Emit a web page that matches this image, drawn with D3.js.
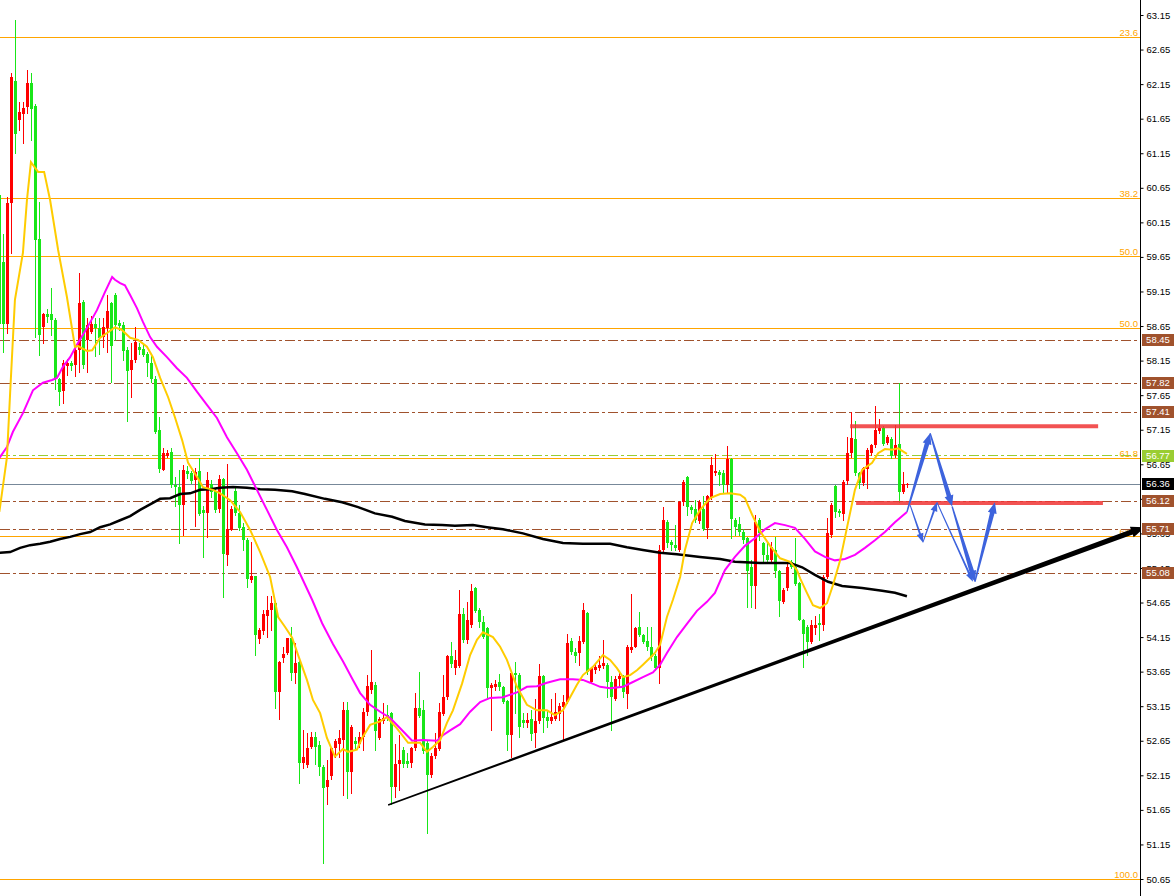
<!DOCTYPE html>
<html>
<head>
<meta charset="utf-8">
<script src="https://cdn.jsdelivr.net/npm/d3@7"></script>
<style>
  body { margin: 0; background: #fff; }
  svg { display: block; font-family: Tahoma, "Liberation Sans", Arial, sans-serif; }
</style>
</head>
<body>
<svg id="chart" width="1176" height="896"></svg>
<script>
// candles: open, high, low, close (red = up, green = down)
const ohlc = [
[60.54,60.62,58.45,58.68],[59.57,59.98,58.27,58.68],[58.68,60.51,58.55,60.43],[60.43,62.31,59.71,62.25],
[62.20,63.08,61.16,61.44],[61.62,61.89,61.48,61.74],[61.72,61.89,61.30,61.81],[61.81,62.35,61.73,62.16],
[62.16,62.31,61.34,61.78],[61.84,61.86,58.49,59.90],[59.91,60.44,58.23,58.52],[58.63,58.84,58.40,58.82],
[58.83,58.89,58.71,58.79],[58.82,59.20,58.52,58.73],[58.74,58.76,57.74,57.88],[57.89,57.90,57.51,57.70],
[57.70,58.16,57.53,58.11],[58.08,58.18,57.94,58.12],[58.12,58.15,58.02,58.07],[58.09,58.35,57.93,58.30],
[58.30,59.42,57.99,58.98],[59.00,59.02,58.05,58.09],[58.45,58.76,57.99,58.66],[58.57,58.79,58.55,58.68],
[58.68,58.76,58.21,58.62],[58.62,58.76,58.25,58.47],[58.49,58.76,58.35,58.63],[58.63,59.10,58.28,58.87],
[58.98,59.00,57.84,58.36],[59.10,59.13,58.45,58.66],[58.70,58.74,58.59,58.66],[58.66,58.71,58.16,58.28],
[58.30,58.35,57.27,58.00],[58.01,58.40,57.63,58.16],[58.16,58.63,58.13,58.42],[58.35,58.40,58.25,58.31],
[58.32,58.38,58.21,58.23],[58.24,58.28,57.92,58.11],[58.12,58.21,57.84,57.89],[57.89,57.92,57.10,57.12],
[57.15,57.34,56.54,56.59],[56.58,56.88,56.57,56.82],[56.77,56.86,56.75,56.82],[56.83,56.88,56.32,56.35],
[56.35,56.47,56.04,56.32],[56.32,56.57,55.51,56.06],[56.06,56.64,55.63,56.57],[56.56,56.62,56.45,56.51],
[56.53,56.56,56.38,56.41],[56.42,56.59,55.75,56.54],[56.56,56.74,55.92,55.94],[55.99,56.04,55.31,55.94],
[55.94,56.54,55.60,56.42],[56.37,56.42,56.18,56.25],[56.27,56.30,55.96,55.99],[55.99,56.50,55.96,56.43],
[56.43,56.45,54.73,55.34],[55.34,56.66,55.19,55.71],[55.71,56.04,55.70,56.01],[56.26,56.32,55.92,55.94],
[55.94,56.06,55.70,55.72],[55.74,55.80,55.41,55.55],[55.55,55.58,54.88,54.98],[54.98,55.53,54.95,55.04],
[55.04,55.04,53.89,54.18],[54.12,54.28,54.06,54.25],[54.25,54.54,54.20,54.49],[54.45,54.74,54.15,54.54],
[54.54,54.74,54.25,54.64],[54.65,54.66,53.12,53.36],[53.36,53.80,52.97,53.79],[53.84,54.01,53.79,53.90],
[53.91,54.14,53.90,54.13],[54.13,54.29,53.53,53.63],[53.62,54.06,53.48,53.77],[53.79,53.82,52.04,52.33],
[52.32,52.80,52.25,52.41],[52.30,52.76,52.27,52.54],[52.55,52.77,52.54,52.70],[52.70,52.78,52.32,52.56],
[52.59,52.64,52.15,52.27],[52.27,52.30,50.88,51.96],[51.98,52.37,51.74,52.08],[52.13,52.56,52.10,52.54],
[52.54,52.68,52.42,52.64],[52.61,52.81,52.42,52.69],[52.66,53.21,51.87,53.10],[53.10,53.21,51.82,52.20],
[52.20,52.88,51.89,52.85],[52.64,52.71,52.52,52.59],[52.61,52.78,52.56,52.71],[52.71,53.12,52.52,53.07],
[53.07,53.60,53.02,53.44],[53.38,53.96,53.34,53.50],[53.46,53.50,52.52,52.80],[52.69,52.99,52.67,52.97],
[52.93,53.19,52.90,52.98],[53.02,53.17,52.95,52.97],[53.05,53.07,51.74,51.98],[51.99,52.61,51.84,52.32],
[52.31,52.73,51.94,52.37],[52.52,52.56,52.27,52.32],[52.36,52.47,52.27,52.31],[52.32,52.56,52.27,52.54],
[52.54,53.34,52.52,53.12],[53.13,53.65,52.99,53.02],[53.09,53.24,52.47,52.49],[52.62,52.64,51.32,52.15],
[52.15,52.47,52.13,52.43],[52.43,52.76,52.40,52.54],[52.53,53.19,52.52,53.06],[53.05,53.60,53.02,53.29],
[53.28,53.89,53.26,53.87],[53.87,54.08,53.72,53.75],[53.71,53.96,53.62,53.82],[53.74,54.83,53.72,54.49],
[54.48,54.57,54.08,54.11],[54.11,54.66,54.06,54.40],[54.32,54.92,54.30,54.81],[54.86,54.88,54.52,54.53],
[54.54,54.57,54.30,54.37],[54.37,54.45,54.13,54.16],[54.28,54.30,53.26,53.41],[53.41,53.48,52.80,53.45],
[53.43,53.53,53.38,53.47],[53.50,53.62,53.38,53.43],[53.43,53.44,53.19,53.22],[53.22,53.24,52.52,52.73],
[52.73,53.65,52.42,53.63],[53.63,53.79,53.05,53.60],[53.60,53.63,52.71,52.85],[52.95,53.05,52.85,52.90],
[52.90,53.05,52.85,52.95],[52.97,53.09,52.66,52.76],[52.76,53.26,52.56,52.93],[52.93,53.76,52.90,53.58],
[53.58,53.60,52.78,52.97],[52.99,53.09,52.85,52.93],[52.93,53.26,52.90,52.99],[52.97,53.34,52.95,53.07],
[53.04,53.19,52.95,53.15],[53.14,53.31,52.68,53.21],[53.21,54.20,53.19,54.06],[54.10,54.13,53.91,53.94],
[53.94,53.99,53.79,53.88],[53.93,54.16,53.75,54.10],[54.08,54.65,54.07,54.54],[54.50,54.52,53.62,53.65],
[53.50,53.72,53.48,53.70],[53.67,53.77,53.63,53.72],[53.70,53.87,53.67,53.75],[53.72,54.11,53.70,53.77],
[53.75,53.77,53.29,53.50],[53.50,53.58,52.80,53.29],[53.26,53.58,53.24,53.55],[53.53,53.63,53.43,53.58],
[53.57,53.60,53.29,53.35],[53.33,54.03,53.12,54.01],[53.96,54.78,53.94,54.01],[54.01,54.30,54.00,54.28],
[54.29,54.52,54.16,54.18],[54.18,54.20,54.06,54.08],[54.10,54.30,53.96,54.01],[54.01,54.30,53.82,53.87],
[53.87,53.91,53.67,53.70],[53.70,55.48,53.48,55.41],[55.41,56.03,55.38,55.84],[55.82,55.84,55.46,55.52],
[55.52,55.55,55.41,55.48],[55.48,55.77,55.41,55.44],[55.41,56.12,55.40,56.11],[56.11,56.42,56.06,56.40],
[56.47,56.48,55.92,56.04],[56.03,56.06,55.94,55.99],[56.00,56.13,55.82,55.84],[55.84,56.13,55.80,56.11],
[56.01,56.19,55.70,55.72],[55.72,56.21,55.58,56.19],[56.18,56.75,56.15,56.64],[56.53,56.80,56.50,56.56],
[56.54,56.57,56.35,56.50],[56.53,56.57,56.23,56.35],[56.35,56.91,56.23,56.72],[56.72,56.74,55.58,55.85],
[55.85,55.87,55.63,55.75],[55.79,55.89,55.63,55.67],[55.67,55.72,55.51,55.56],[55.58,55.60,54.59,55.10],
[55.17,55.27,54.59,54.90],[54.90,55.92,54.57,55.82],[55.84,55.87,55.55,55.65],[55.51,55.53,55.22,55.34],
[55.34,55.51,55.22,55.27],[55.27,55.53,55.24,55.46],[55.41,55.60,55.02,55.10],[55.10,55.12,54.45,54.66],
[54.66,54.86,54.64,54.83],[54.86,55.22,54.83,55.17],[55.24,55.27,55.15,55.17],[55.17,55.58,54.90,54.93],
[54.93,54.95,54.40,54.40],[54.40,54.41,53.72,54.20],[54.30,54.32,53.89,54.08],[54.08,54.40,54.06,54.32],
[54.27,54.45,54.20,54.32],[54.35,54.49,54.11,54.32],[54.32,55.05,54.25,55.02],[55.02,55.87,55.00,55.65],
[55.63,56.09,55.60,56.06],[56.34,56.35,55.89,55.97],[55.97,56.00,55.90,55.94],[55.94,56.42,55.84,56.40],
[56.40,57.05,56.37,56.81],[56.81,57.41,56.76,57.03],[57.01,57.27,56.49,56.52],[56.52,56.54,56.30,56.37],
[56.37,56.61,56.35,56.59],[56.59,56.88,56.30,56.86],[56.81,56.95,56.78,56.93],[56.93,57.49,56.90,57.15],
[57.12,57.31,57.10,57.17],[57.18,57.20,56.93,56.95],[56.96,57.07,56.94,57.05],[57.02,57.05,56.74,56.78],
[56.78,57.22,56.76,56.93],[56.94,57.82,56.11,56.25],[56.25,56.54,56.23,56.37],[56.34,56.38,56.32,56.36]
];

// moving averages: [bar index, price]
const maFast = [
[0,55.96],[1.9,56.75],[2.7,57.68],[3.9,59.03],[5.9,59.71],[6.9,60.47],[7.9,61.02],[9.7,60.88],[11.2,60.88],
[12.7,60.47],[14.7,59.75],[16.9,59.07],[18.9,58.35],[19.7,58.36],[21.9,58.29],[23.2,58.30],[25.2,58.48],
[27.2,58.56],[28.9,58.63],[30.7,58.59],[32.7,58.48],[34.7,58.45],[36.9,58.35],[38.4,58.20],[40.2,57.90],
[42.2,57.62],[43.9,57.33],[45.7,57.00],[47.2,56.67],[49.4,56.47],[50.9,56.32],[53.4,56.28],[55.2,56.23],
[57.7,56.13],[60.2,55.96],[62.7,55.70],[65.2,55.38],[67.7,55.02],[69.7,54.44],[71.4,54.30],[73.2,54.14],
[74.7,53.89],[76.9,53.53],[78.4,53.24],[80.2,53.05],[81.9,52.69],[83.9,52.42],[85.9,52.53],[87.2,52.49],
[89.4,52.52],[90.7,52.69],[92.7,52.88],[95.2,52.93],[96.9,52.99],[99.4,52.83],[102.2,52.62],[105.2,52.62],
[106.9,52.49],[108.4,52.56],[110.2,52.66],[111.9,52.91],[113.4,53.09],[115.7,53.48],[117.7,53.89],
[119.4,54.11],[120.9,54.22],[123.4,54.15],[125.2,54.01],[126.9,53.82],[129.4,53.43],[131.9,53.17],
[134.4,53.09],[136.9,53.09],[138.9,53.02],[140.9,53.09],[142.7,53.28],[144.4,53.46],[145.9,53.60],
[148.4,53.72],[150.9,53.89],[152.7,53.82],[154.4,53.70],[155.9,53.57],[157.7,53.60],[159.4,53.67],
[160.9,53.75],[162.7,53.85],[163.9,53.92],[165.2,54.04],[166.9,54.44],[168.4,54.69],[170.2,55.02],
[171.4,55.41],[173.2,55.80],[175.2,55.99],[177.7,56.16],[180.2,56.22],[182.7,56.23],[185.2,56.21],
[186.4,56.16],[188.2,55.92],[190.2,55.68],[192.7,55.47],[195.2,55.29],[197.7,55.24],[199.4,55.12],
[200.2,55.00],[201.9,54.79],[203.4,54.61],[205.2,54.57],[206.9,54.64],[208.4,54.90],[210.2,55.26],
[211.9,55.73],[213.9,56.28],[215.7,56.57],[218.2,56.67],[219.7,56.81],[221.4,56.87],[223.2,56.86],
[224.7,56.88],[226.9,56.80]
];

const maMid = [
[0,56.74],[1.9,56.90],[3.4,57.12],[5.9,57.39],[8.4,57.72],[10.9,57.83],[13.2,57.87],[14.4,57.90],
[15.9,58.06],[17.7,58.20],[19.4,58.38],[21.9,58.62],[24.4,58.88],[26.4,59.14],[28.2,59.36],[28.9,59.32],
[30.2,59.27],[31.4,59.24],[32.7,59.10],[34.4,58.91],[35.9,58.71],[37.7,58.49],[39.4,58.35],[41.9,58.20],
[44.4,58.04],[46.9,57.90],[49.4,57.70],[51.9,57.51],[54.4,57.32],[56.9,57.04],[59.4,56.81],[61.9,56.57],
[64.4,56.28],[66.9,55.99],[69.4,55.70],[71.9,55.45],[74.4,55.16],[78.2,54.69],[80.7,54.35],[83.4,54.05],
[85.9,53.80],[88.4,53.53],[90.2,53.34],[92.7,53.17],[95.2,53.07],[97.7,52.98],[100.2,52.83],[103.2,52.65],
[105.9,52.66],[109.4,52.65],[110.9,52.73],[112.7,52.80],[115.2,52.89],[117.7,53.07],[120.2,53.21],
[122.7,53.27],[125.9,53.28],[129.4,53.35],[131.9,53.43],[134.4,53.44],[136.9,53.49],[140.2,53.54],
[143.4,53.54],[145.9,53.53],[147.7,53.49],[150.2,53.43],[152.7,53.41],[155.9,53.43],[158.4,53.50],
[160.9,53.57],[163.4,53.64],[165.2,53.75],[166.9,53.92],[169.4,54.15],[171.9,54.34],[174.4,54.53],
[176.9,54.66],[178.9,54.79],[181.4,55.12],[183.9,55.31],[186.4,55.47],[188.9,55.58],[191.4,55.71],
[193.9,55.80],[196.4,55.77],[198.9,55.73],[201.4,55.57],[203.9,55.39],[206.4,55.31],[208.9,55.26],
[211.4,55.28],[213.9,55.34],[216.4,55.44],[218.9,55.55],[221.4,55.67],[223.9,55.81],[226.9,55.96]
];

const maSlow = [
[0,55.37],[2.7,55.38],[5.2,55.44],[7.7,55.48],[10.2,55.50],[12.7,55.53],[15.2,55.57],[17.7,55.60],
[20.2,55.64],[22.7,55.67],[25.2,55.74],[27.7,55.78],[30.2,55.84],[32.7,55.90],[35.2,55.99],[37.7,56.07],
[40.2,56.15],[42.7,56.16],[45.2,56.22],[47.7,56.23],[50.2,56.28],[52.7,56.29],[55.2,56.31],[58.4,56.32],
[61.9,56.31],[65.2,56.29],[68.9,56.28],[73.2,56.26],[76.4,56.22],[81.4,56.15],[85.7,56.10],[89.7,56.03],
[93.9,55.94],[98.2,55.89],[101.4,55.83],[106.4,55.78],[110.7,55.77],[113.9,55.76],[118.4,55.77],
[121.9,55.74],[125.9,55.71],[130.9,55.65],[135.9,55.57],[140.9,55.51],[145.9,55.50],[152.7,55.50],
[156.9,55.45],[160.9,55.41],[165.2,55.37],[169.4,55.35],[175.2,55.31],[180.2,55.28],[183.9,55.24],
[190.2,55.22],[197.7,55.22],[200.7,55.16],[203.9,55.05],[207.2,54.95],[210.7,54.89],[215.7,54.86],
[220.7,54.82],[223.9,54.79],[226.9,54.74]
];

const yTicks = [50.65,51.15,51.65,52.15,52.65,53.15,53.65,54.15,54.65,55.15,55.65,56.15,56.65,
                57.15,57.65,58.15,58.65,59.15,59.65,60.15,60.65,61.15,61.65,62.15,62.65,63.15];

const fibNames  = ['23.6','38.2','50.0','50.0','61.8','61.8','100.0'];
const fibPrices = [62.83, 60.50, 59.66, 58.62, 56.74, 55.61, 50.65];

const brownLevels = [58.45, 57.82, 57.41, 56.12, 55.71, 55.08];
const greenLevel = 56.77;
const bidLevel = 56.36;

// resistance / support zones: price, from bar, to bar
const zones = [[57.20, 212.7, 274.7], [56.09, 214.2, 275.9]];

// rising trend line from bar/price to bar/price
const trendLine = [[97.2, 51.72], [286.4, 55.74]];

// projected path arrows: [fromBar, fromPrice, toBar, toPrice]
const bigArrows = [
  [226.9, 55.96, 232.7, 57.10],
  [232.7, 57.10, 238.2, 56.04],
  [238.2, 56.04, 243.9, 54.95],
  [243.9, 54.95, 248.9, 56.10]
];
const smallArrows = [
  [227.7, 56.06, 230.9, 55.52],
  [230.9, 55.52, 234.4, 56.10],
  [234.4, 56.10, 243.4, 54.95]
];

// ---------------------------------------------------------------

var svg = d3.select('#chart');
var W = 1176, H = 896, axisX = 1140;

var x = d3.scaleLinear().domain([0, 285]).range([-0.67, 1139.33]);
var y = d3.scaleLinear().domain([50.65, 63.15]).range([879, 15]);

svg.append('rect').attr('width', W).attr('height', H).attr('fill', '#fff');

// horizontal levels
var levels = svg.append('g');

levels.selectAll('.fib')
  .data(fibPrices)
  .enter().append('line')
  .attr('x1', 0).attr('x2', axisX)
  .attr('y1', function(d){ return Math.round(y(d)) + 0.5; })
  .attr('y2', function(d){ return Math.round(y(d)) + 0.5; })
  .attr('stroke', '#ffa500').attr('stroke-width', 1);

levels.selectAll('.fibtext')
  .data(fibPrices)
  .enter().append('text')
  .attr('x', axisX - 2)
  .attr('y', function(d){ return Math.round(y(d)) - 1; })
  .attr('text-anchor', 'end')
  .attr('font-size', 9.5)
  .attr('fill', '#ffa500')
  .text(function(d, i){ return fibNames[i]; });

levels.selectAll('.brown')
  .data(brownLevels)
  .enter().append('line')
  .attr('x1', 0).attr('x2', axisX)
  .attr('y1', function(d){ return Math.round(y(d)) + 0.5; })
  .attr('y2', function(d){ return Math.round(y(d)) + 0.5; })
  .attr('stroke', '#a0522d').attr('stroke-width', 1)
  .attr('stroke-dasharray', '10,3,3,3');

levels.append('line')
  .attr('x1', 0).attr('x2', axisX)
  .attr('y1', Math.round(y(greenLevel)) - 0.5).attr('y2', Math.round(y(greenLevel)) - 0.5)
  .attr('stroke', '#9acd32').attr('stroke-width', 1)
  .attr('stroke-dasharray', '10,3,3,3');

levels.append('line')
  .attr('x1', 0).attr('x2', axisX)
  .attr('y1', Math.round(y(bidLevel)) + 0.5).attr('y2', Math.round(y(bidLevel)) + 0.5)
  .attr('stroke', '#778899').attr('stroke-width', 1);

// candles
var candles = svg.append('g').attr('shape-rendering', 'crispEdges');

var bar = candles.selectAll('g')
  .data(ohlc)
  .enter().append('g')
  .attr('fill', function(d){ return d[3] >= d[0] ? '#ff0000' : '#19e619'; })
  .attr('stroke', function(d){ return d[3] >= d[0] ? '#ff0000' : '#19e619'; });

bar.append('line')
  .attr('x1', function(d, i){ return Math.round(x(i)) + 0.5; })
  .attr('x2', function(d, i){ return Math.round(x(i)) + 0.5; })
  .attr('y1', function(d){ return Math.round(y(d[1])); })
  .attr('y2', function(d){ return Math.round(y(d[2])) + 1; });

bar.append('rect')
  .attr('stroke', 'none')
  .attr('x', function(d, i){ return Math.round(x(i)) - 1; })
  .attr('width', 3)
  .attr('y', function(d){ return Math.round(y(Math.max(d[0], d[3]))); })
  .attr('height', function(d){ return Math.max(1, Math.round(Math.abs(y(d[0]) - y(d[3])))); });

// moving averages
var line = d3.line()
  .x(function(d){ return x(d[0]); })
  .y(function(d){ return y(d[1]); });

svg.append('path').datum(maSlow).attr('d', line)
  .attr('fill', 'none').attr('stroke', '#000').attr('stroke-width', 2.5);
svg.append('path').datum(maMid).attr('d', line)
  .attr('fill', 'none').attr('stroke', '#ff00ff').attr('stroke-width', 2);
svg.append('path').datum(maFast).attr('d', line)
  .attr('fill', 'none').attr('stroke', '#ffcc00').attr('stroke-width', 2);

// tapered arrow polygon between two screen points
function arrowPoints(p0, p1, w0, w1, headLen, headW) {
  var dx = p1[0] - p0[0], dy = p1[1] - p0[1];
  var len = Math.hypot(dx, dy);
  var ux = dx / len, uy = dy / len, nx = -uy, ny = ux;
  var b = [p1[0] - ux * headLen, p1[1] - uy * headLen];
  return [
    [p0[0] + nx * w0, p0[1] + ny * w0],
    [b[0] + nx * w1, b[1] + ny * w1],
    [b[0] + nx * headW, b[1] + ny * headW],
    p1,
    [b[0] - nx * headW, b[1] - ny * headW],
    [b[0] - nx * w1, b[1] - ny * w1],
    [p0[0] - nx * w0, p0[1] - ny * w0]
  ].map(function(p){ return p.join(','); }).join(' ');
}

// trend line
svg.append('polygon')
  .attr('points', arrowPoints(
    [x(trendLine[0][0]), y(trendLine[0][1])],
    [x(trendLine[1][0]), y(trendLine[1][1])],
    0.8, 2.6, 14, 5.5))
  .attr('fill', '#000');

// red zones
svg.selectAll('.zone')
  .data(zones)
  .enter().append('line')
  .attr('x1', function(d){ return x(d[1]); })
  .attr('x2', function(d){ return x(d[2]); })
  .attr('y1', function(d){ return y(d[0]); })
  .attr('y2', function(d){ return y(d[0]); })
  .attr('stroke', '#f03535').attr('stroke-opacity', 0.85).attr('stroke-width', 4);

// projected path
svg.selectAll('.small')
  .data(smallArrows)
  .enter().append('polygon')
  .attr('points', function(d){
    return arrowPoints([x(d[0]), y(d[1])], [x(d[2]), y(d[3])], 0.5, 1, 9, 3.5);
  })
  .attr('fill', '#3d63dd');

svg.selectAll('.big')
  .data(bigArrows)
  .enter().append('polygon')
  .attr('points', function(d){
    return arrowPoints([x(d[0]), y(d[1])], [x(d[2]), y(d[3])], 0.7, 2.3, 11, 4.5);
  })
  .attr('fill', '#3d63dd');

// price axis
svg.append('rect').attr('x', axisX + 0.5).attr('y', 0)
  .attr('width', W - axisX).attr('height', H).attr('fill', '#fff');

var axis = svg.append('g')
  .attr('transform', 'translate(' + (axisX + 0.5) + ',0)')
  .call(d3.axisRight(y).tickValues(yTicks).tickSize(3).tickPadding(3).tickFormat(d3.format('.2f')));
axis.select('.domain').remove();
axis.selectAll('text').attr('font-size', 9.5).attr('fill', '#000')
  .attr('font-family', 'Tahoma, "Liberation Sans", Arial, sans-serif');
axis.selectAll('line').attr('stroke', '#000');

svg.append('line')
  .attr('x1', axisX + 0.5).attr('x2', axisX + 0.5)
  .attr('y1', 0).attr('y2', H)
  .attr('stroke', '#000').attr('stroke-width', 1);

// price tags
var tags = brownLevels.map(function(v){ return [v, '#a0522d']; })
  .concat([[greenLevel, '#9acd32'], [bidLevel, '#000000']]);

var tag = svg.selectAll('.tag')
  .data(tags)
  .enter().append('g')
  .attr('transform', function(d){ return 'translate(' + (axisX + 2) + ',' + Math.round(y(d[0])) + ')'; });

tag.append('rect')
  .attr('x', 0).attr('y', -6).attr('width', 32).attr('height', 12)
  .attr('fill', function(d){ return d[1]; });

tag.append('text')
  .attr('x', 16).attr('y', 0)
  .attr('dy', '0.35em')
  .attr('text-anchor', 'middle')
  .attr('font-size', 9.5)
  .attr('fill', '#fff')
  .text(function(d){ return d[0].toFixed(2); });
</script>
</body>
</html>
